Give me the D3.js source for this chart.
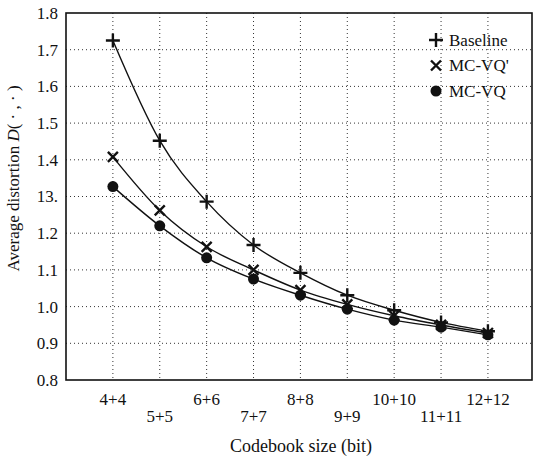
<!DOCTYPE html>
<html>
<head>
<meta charset="utf-8">
<script src="https://cdnjs.cloudflare.com/ajax/libs/d3/7.8.5/d3.min.js"></script>
<style>
  body { margin: 0; background: #fff; }
</style>
</head>
<body>
<div id="chart"></div>
<script>
// data
var bits = [4, 5, 6, 7, 8, 9, 10, 11, 12];
var xTickLabels = ["4+4", "5+5", "6+6", "7+7", "8+8", "9+9", "10+10", "11+11", "12+12"];
var baseline = [1.725, 1.452, 1.286, 1.168, 1.092, 1.031, 0.990, 0.957, 0.933];
var mcvqPrime = [1.408, 1.262, 1.163, 1.100, 1.045, 1.006, 0.975, 0.950, 0.928];
var mcvq = [1.327, 1.220, 1.133, 1.075, 1.031, 0.993, 0.963, 0.944, 0.923];
var yTicks = [0.8, 0.9, 1.0, 1.1, 1.2, 1.3, 1.4, 1.5, 1.6, 1.7, 1.8];
var yTickLabels = ["0.8", "0.9", "1.0", "1.1", "1.2", "13.", "1.4", "1.5", "1.6", "1.7", "1.8"];

var FONT = "Liberation Serif";

// storrelse
var margin = { top: 13, right: 6, bottom: 77, left: 66 },
  width = 538 - margin.left - margin.right,
  height = 457 - margin.top - margin.bottom;

var svg = d3.select("#chart")
  .append("svg")
  .attr("width", 538)
  .attr("height", 457)
  .append("g")
  .attr("transform", "translate(" + margin.left + "," + margin.top + ")");

var x = d3.scaleLinear()
  .domain([3, 12.94])
  .range([0, width]);

var y = d3.scaleLinear()
  .domain([0.8, 1.8])
  .range([height, 0]);

// gitter
svg.append("g")
  .selectAll("line")
  .data(bits)
  .join("line")
  .attr("x1", function (d) { return x(d); })
  .attr("x2", function (d) { return x(d); })
  .attr("y1", 0)
  .attr("y2", height)
  .attr("stroke", "#333")
  .attr("stroke-width", 1)
  .attr("stroke-dasharray", "1,3");

svg.append("g")
  .selectAll("line")
  .data(yTicks.slice(1, -1))
  .join("line")
  .attr("x1", 0)
  .attr("x2", width)
  .attr("y1", function (d) { return y(d); })
  .attr("y2", function (d) { return y(d); })
  .attr("stroke", "#333")
  .attr("stroke-width", 1)
  .attr("stroke-dasharray", "1,3");

// ramme
svg.append("rect")
  .attr("width", width)
  .attr("height", height)
  .attr("fill", "none")
  .attr("stroke", "#111")
  .attr("stroke-width", 1.6);

// y-akse tekster
svg.append("g")
  .selectAll("text")
  .data(yTicks)
  .join("text")
  .attr("x", -8)
  .attr("y", function (d) { return y(d); })
  .attr("dy", "0.35em")
  .attr("text-anchor", "end")
  .attr("fill", "#111")
  .style("font-family", FONT)
  .style("font-size", "17px")
  .text(function (d, i) { return yTickLabels[i]; });

// x-akse tekster, forskudt
svg.append("g")
  .selectAll("text")
  .data(bits)
  .join("text")
  .attr("x", function (d) { return x(d); })
  .attr("y", function (d, i) { return height + (i % 2 === 0 ? 25 : 42); })
  .attr("text-anchor", "middle")
  .attr("fill", "#111")
  .style("font-family", FONT)
  .style("font-size", "17px")
  .text(function (d, i) { return xTickLabels[i]; });

// akse titler
svg.append("text")
  .attr("x", width / 2 + 2)
  .attr("y", height + 72)
  .attr("text-anchor", "middle")
  .attr("fill", "#111")
  .style("font-family", FONT)
  .style("font-size", "18px")
  .text("Codebook size (bit)");

var yTitle = svg.append("text")
  .attr("transform", "translate(" + (-47) + "," + (height / 2 - 18) + ") rotate(-90)")
  .attr("text-anchor", "middle")
  .attr("fill", "#111")
  .style("font-family", FONT)
  .style("font-size", "17px");
yTitle.append("tspan").text("Average distortion ");
yTitle.append("tspan").style("font-style", "italic").text("D");
yTitle.append("tspan").text("( · , · )");

// linjer
var line = d3.line()
  .x(function (d, i) { return x(bits[i]); })
  .y(function (d) { return y(d); })
  .curve(d3.curveMonotoneX);

[baseline, mcvqPrime, mcvq].forEach(function (s) {
  svg.append("path")
    .datum(s)
    .attr("fill", "none")
    .attr("stroke", "#111")
    .attr("stroke-width", 1.4)
    .attr("d", line);
});

// markorer
function plus(g, cx, cy) {
  g.append("path")
    .attr("d", "M" + (cx - 7) + "," + cy + "H" + (cx + 7) + "M" + cx + "," + (cy - 7) + "V" + (cy + 7))
    .attr("stroke", "#111")
    .attr("stroke-width", 2.4)
    .attr("fill", "none");
}
function cross(g, cx, cy) {
  g.append("path")
    .attr("d", "M" + (cx - 5) + "," + (cy - 5) + "L" + (cx + 5) + "," + (cy + 5) + "M" + (cx - 5) + "," + (cy + 5) + "L" + (cx + 5) + "," + (cy - 5))
    .attr("stroke", "#111")
    .attr("stroke-width", 2.4)
    .attr("fill", "none");
}
function dot(g, cx, cy) {
  g.append("circle")
    .attr("cx", cx)
    .attr("cy", cy)
    .attr("r", 5.5)
    .attr("fill", "#111");
}

var marks = svg.append("g");
baseline.forEach(function (d, i) { plus(marks, x(bits[i]), y(d)); });
mcvqPrime.forEach(function (d, i) { cross(marks, x(bits[i]), y(d)); });
mcvq.forEach(function (d, i) { dot(marks, x(bits[i]), y(d)); });

// legende
var legend = svg.append("g").attr("transform", "translate(" + (436 - margin.left) + "," + (40 - margin.top) + ")");
var legendItems = [
  { name: "Baseline", draw: plus },
  { name: "MC-VQ'", draw: cross },
  { name: "MC-VQ", draw: dot }
];
legendItems.forEach(function (item, i) {
  item.draw(legend, 0, i * 25.5);
  legend.append("text")
    .attr("x", 13)
    .attr("y", i * 25.5)
    .attr("dy", "0.35em")
    .attr("fill", "#111")
    .style("font-family", FONT)
    .style("font-size", "17px")
    .text(item.name);
});
</script>
</body>
</html>
